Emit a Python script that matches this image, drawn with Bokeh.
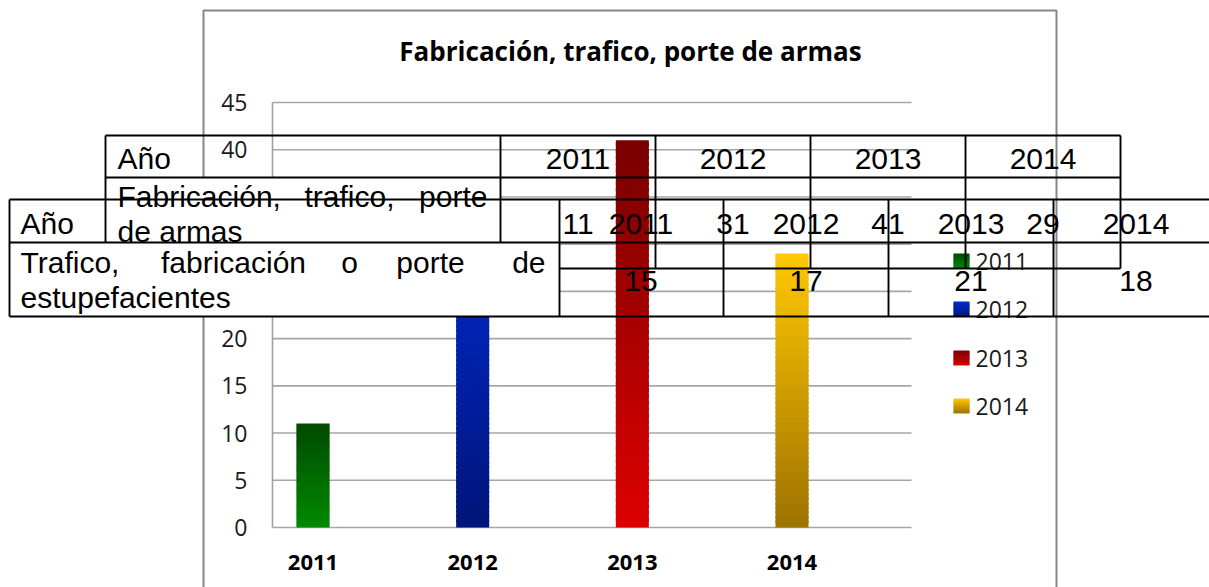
from bokeh.plotting import figure
from bokeh.models import Range1d
from bokeh.core.properties import value
from bokeh.embed import file_html
from bokeh.resources import INLINE

# ---------------- data ----------------
years = [2011, 2012, 2013, 2014]
year_labels = ["2011", "2012", "2013", "2014"]
armas = [11, 31, 41, 29]
estupefacientes = [15, 17, 21, 18]
y_ticks = [0, 5, 10, 15, 20, 25, 30, 35, 40, 45]
chart_title = "Fabricación, trafico, porte de armas"
row_header = "Año"
label_armas_words = ["Fabricación,", "trafico,", "porte"]
label_armas_line2 = "de armas"
label_estup_words = ["Trafico,", "fabricación", "o", "porte", "de"]
label_estup_line2 = "estupefacientes"

# gradient colours (top, bottom) per year
bar_top_colors = ["#004a00", "#0029cc", "#780000", "#ffc800"]
bar_bottom_colors = ["#008a00", "#00157a", "#de0000", "#9e7200"]

# ---------------- layout (page pixels) ----------------
W, H = 1209, 587
CAN_L, CAN_T = 0, 0
CAN_R, CAN_B = CAN_L + W, CAN_T + H
X_2011 = 312.5
PX_PER_YEAR = 159.67
Y_ZERO = 527.0
PX_PER_UNIT = 425.0 / 45.0

x_range = Range1d(years[0] - (X_2011 - CAN_L) / PX_PER_YEAR,
                  years[0] + (CAN_R - X_2011) / PX_PER_YEAR)
y_range = Range1d(-(CAN_B - Y_ZERO) / PX_PER_UNIT, (Y_ZERO - CAN_T) / PX_PER_UNIT)

p = figure(width=W, height=H, x_range=x_range, y_range=y_range,
           output_backend="svg", toolbar_location=None,
           x_axis_location=None, y_axis_location=None, min_border=0)
p.extra_x_ranges = {"px": Range1d(CAN_L, CAN_R)}
p.extra_y_ranges = {"px": Range1d(CAN_B, CAN_T)}
p.grid.grid_line_color = None
p.outline_line_color = None
p.background_fill_color = "white"
p.border_fill_color = "white"

PX = dict(x_range_name="px", y_range_name="px")
PXX = dict(x_range_name="px")

CAL = value("Open Sans")
ARIAL = value("Liberation Sans")
TLW = 1.9  # table line width


def hex2rgb(h):
    h = h.lstrip("#")
    return tuple(int(h[i:i + 2], 16) for i in (0, 2, 4))


def lerp(c1, c2, t):
    a, b = hex2rgb(c1), hex2rgb(c2)
    return "#%02x%02x%02x" % tuple(int(round(a[i] + (b[i] - a[i]) * t)) for i in range(3))


# ---------------- chart layer ----------------
# outer chart border
p.quad(left=[203], right=[1056], top=[10], bottom=[620], fill_color=None,
       line_color="#878787", line_width=2, **PX)

# gridlines
p.segment(x0=[272] * len(y_ticks), x1=[911] * len(y_ticks), y0=y_ticks, y1=y_ticks,
          line_color="#a6a6a6", line_width=1.6, **PXX)
# y axis line
p.segment(x0=[272], x1=[272], y0=[y_ticks[0]], y1=[y_ticks[-1]],
          line_color="#a0a0a0", line_width=1.6, **PXX)

# gradient bars (stacked slices, each slightly overlapping the next)
N = 60
BAR_W = 33.0 / PX_PER_YEAR
ql, qr, qb, qt, qc = [], [], [], [], []
for i, (yr, v) in enumerate(zip(years, armas)):
    for k in range(N):
        ql.append(yr - BAR_W / 2)
        qr.append(yr + BAR_W / 2)
        qb.append(v * k / N)
        qt.append(min(v, v * (k + 1.6) / N))
        qc.append(lerp(bar_bottom_colors[i], bar_top_colors[i], (k + 0.5) / N))
p.quad(left=ql, right=qr, bottom=qb, top=qt, fill_color=qc, line_color=None)

# y tick labels
p.text(x=[247] * len(y_ticks), y=y_ticks, text=[str(t) for t in y_ticks],
       text_align="right", text_baseline="middle", text_font=CAL,
       text_font_size="23px", text_color="#1a1a1a", x_range_name="px")
# x tick labels
p.text(x=years, y=[562] * len(years), text=year_labels, text_align="center",
       text_baseline="middle", text_font=CAL, text_font_size="22px",
       text_font_style="bold", text_color="black", y_range_name="px")
# title
p.text(x=[630], y=[50], text=[chart_title], text_align="center",
       text_baseline="middle", text_font=CAL, text_font_size="26px",
       text_font_style="bold", text_color="black", **PX)

# legend
leg_y = [260.5, 308.5, 357.5, 405.5]
M = 12
ll, lr, lb, lt, lc = [], [], [], [], []
for i, cy in enumerate(leg_y):
    for k in range(M):
        ll.append(953)
        lr.append(969)
        lt.append(cy - 7.5 + 15 * k / M)
        lb.append(min(cy + 7.5, cy - 7.5 + 15 * (k + 1.6) / M))
        lc.append(lerp(bar_top_colors[i], bar_bottom_colors[i], (k + 0.5) / M))
p.quad(left=ll, right=lr, top=lt, bottom=lb, fill_color=lc, line_color=None, **PX)
p.text(x=[975] * len(years), y=leg_y, text=year_labels, text_align="left",
       text_baseline="middle", text_font=CAL, text_font_size="23px",
       text_color="#1a1a1a", **PX)

# ---------------- back table ----------------
p.quad(left=[106], right=[499.5], top=[177.5], bottom=[267.5], fill_color="white",
       line_color=None, **PX)
b_h = [135, 177, 268]
p.segment(x0=[105] * 3, x1=[1120] * 3, y0=b_h, y1=b_h, line_color="black",
          line_width=TLW, **PX)
b_v = [105, 500, 655, 810, 965, 1120]
p.segment(x0=b_v, x1=b_v, y0=[135] * 6, y1=[268] * 6, line_color="black",
          line_width=TLW, **PX)
b_cx = [577.5, 732.5, 887.5, 1042.5]
txt = dict(text_font=ARIAL, text_font_size="30px", text_color="black",
           text_baseline="middle")
p.text(x=[117], y=[158], text=[row_header], text_align="left", **txt, **PX)
p.text(x=b_cx, y=[158] * 4, text=year_labels, text_align="center", **txt, **PX)
p.text(x=[117], y=[196], text=[label_armas_words[0]], text_align="left", **txt, **PX)
p.text(x=[349], y=[196], text=[label_armas_words[1]], text_align="center", **txt, **PX)
p.text(x=[487], y=[196], text=[label_armas_words[2]], text_align="right", **txt, **PX)
p.text(x=[117], y=[231], text=[label_armas_line2], text_align="left", **txt, **PX)
p.text(x=b_cx, y=[223] * 4, text=[str(v) for v in armas], text_align="center", **txt, **PX)

# ---------------- front table ----------------
p.quad(left=[9.5], right=[558.5], top=[242.5], bottom=[315.5], fill_color="white",
       line_color=None, **PX)
f_h = [199, 242, 316]
p.segment(x0=[9] * 3, x1=[1230] * 3, y0=f_h, y1=f_h, line_color="black",
          line_width=TLW, **PX)
f_v = [9, 559, 723, 888, 1053]
p.segment(x0=f_v, x1=f_v, y0=[199] * 5, y1=[316] * 5, line_color="black",
          line_width=TLW, **PX)
f_cx = [640.5, 805.5, 970.5, 1135.5]
p.text(x=[20], y=[223], text=[row_header], text_align="left", **txt, **PX)
p.text(x=f_cx, y=[223] * 4, text=year_labels, text_align="center", **txt, **PX)
p.text(x=[20], y=[262], text=[label_estup_words[0]], text_align="left", **txt, **PX)
p.text(x=[233, 349, 430], y=[262] * 3, text=label_estup_words[1:4], text_align="center",
       **txt, **PX)
p.text(x=[545], y=[262], text=[label_estup_words[4]], text_align="right", **txt, **PX)
p.text(x=[20], y=[297], text=[label_estup_line2], text_align="left", **txt, **PX)
p.text(x=f_cx, y=[280] * 4, text=[str(v) for v in estupefacientes], text_align="center",
       **txt, **PX)

open("out.html", "w").write(file_html(p, INLINE))
